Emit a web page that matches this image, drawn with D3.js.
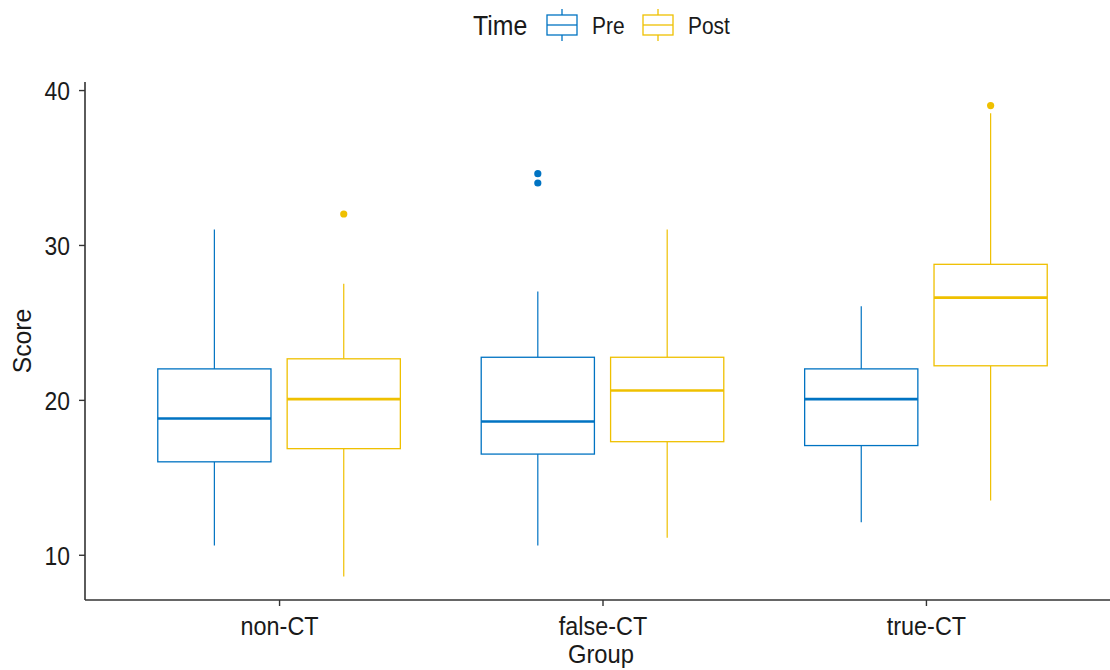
<!DOCTYPE html>
<html><head><meta charset="utf-8">
<script src="https://cdn.jsdelivr.net/npm/d3@7"></script>
<style>body{margin:0;background:#fff}svg{display:block;font-family:"Liberation Sans",Arial,sans-serif}</style>
</head><body><svg id="c" width="1110" height="670"></svg>
<script>
const groups = ["non-CT", "false-CT", "true-CT"];
const times = ["Pre", "Post"];
const colors = ["#0073C2", "#EFC000"];
// [whiskerLow, Q1, median, Q3, whiskerHigh]
const preStats  = [[10.6, 16.0, 18.8, 22.0, 31.0], [10.6, 16.5, 18.6, 22.75, 27.0], [12.1, 17.05, 20.05, 22.0, 26.05]];
const postStats = [[8.6, 16.85, 20.05, 22.65, 27.5], [11.1, 17.3, 20.6, 22.75, 31.0], [13.5, 22.2, 26.6, 28.75, 38.5]];
const preOutliers  = [[], [34.0, 34.6], []];
const postOutliers = [[32.0], [], [39.0]];
const yTicks = [10, 20, 30, 40];

const svg = d3.select("#c");
const pLeft = 85, pRight = 1120, pTop = 82, pBottom = 600;
const x = d3.scalePoint().domain(groups).range([pLeft, pRight]).padding(0.6);
const step = x.step();
const sub = d3.scalePoint().domain(times).range([-0.2 * step, 0.2 * step]);
const bw = 0.35 * step;
const y = d3.scaleLinear().domain([7.08, 40.52]).range([pBottom, pTop]);

function squeeze(sel, f) {
  sel.each(function () {
    const L = this.getComputedTextLength();
    d3.select(this).attr("textLength", L * f).attr("lengthAdjust", "spacingAndGlyphs");
  });
}

const series = [
  {time: "Pre", stats: preStats, out: preOutliers, color: colors[0]},
  {time: "Post", stats: postStats, out: postOutliers, color: colors[1]}
];

const g = svg.append("g");
series.forEach(s => {
  groups.forEach((grp, i) => {
    const st = s.stats[i];
    const cx = x(grp) + sub(s.time);
    const gg = g.append("g").attr("stroke", s.color).attr("fill", "none");
    gg.append("line").attr("x1", cx).attr("x2", cx).attr("y1", y(st[3])).attr("y2", y(st[4])).attr("stroke-width", 1.2);
    gg.append("line").attr("x1", cx).attr("x2", cx).attr("y1", y(st[1])).attr("y2", y(st[0])).attr("stroke-width", 1.2);
    gg.append("rect").attr("x", cx - bw / 2).attr("y", y(st[3])).attr("width", bw).attr("height", y(st[1]) - y(st[3])).attr("fill", "#fff").attr("stroke-width", 1.3);
    gg.append("line").attr("x1", cx - bw / 2).attr("x2", cx + bw / 2).attr("y1", y(st[2])).attr("y2", y(st[2])).attr("stroke-width", 2.6);
    s.out[i].forEach(v => {
      g.append("circle").attr("cx", cx).attr("cy", y(v)).attr("r", 3.6).attr("fill", s.color);
    });
  });
});

// axes
const ya = svg.append("g").attr("transform", `translate(${pLeft},0)`)
  .call(d3.axisLeft(y).tickValues(yTicks).tickSize(6).tickPadding(9));
ya.select(".domain").attr("d", `M0,${pTop}V${pBottom}`);
const xa = svg.append("g").attr("transform", `translate(0,${pBottom})`)
  .call(d3.axisBottom(x).tickSize(6).tickPadding(6));
xa.select(".domain").attr("d", `M${pLeft},0H${1110}`);
[ya, xa].forEach(a => {
  a.selectAll(".domain").attr("stroke", "#333").attr("stroke-width", 1.6);
  a.selectAll(".tick line").attr("stroke", "#333").attr("stroke-width", 1.4);
  a.selectAll(".tick text").attr("fill", "#1a1a1a").attr("font-size", 26);
});
xa.selectAll(".tick text").attr("dy", null).attr("y", 35);
ya.selectAll(".tick text").attr("dy", "0.38em");
squeeze(xa.selectAll(".tick text"), 0.9);
squeeze(ya.selectAll(".tick text"), 0.88);

const gl = svg.append("text").attr("x", 601).attr("y", 663).attr("text-anchor", "middle").attr("font-size", 25).attr("fill", "#1a1a1a").text("Group");
squeeze(gl, 0.95);
const sl = svg.append("text").attr("transform", "translate(31,341) rotate(-90)").attr("text-anchor", "middle").attr("font-size", 26).attr("fill", "#1a1a1a").text("Score");
squeeze(sl, 0.95);

// legend
const lg = svg.append("g");
const tl = lg.append("text").attr("x", 473).attr("y", 35).attr("font-size", 27).attr("fill", "#1a1a1a").text("Time");
squeeze(tl, 0.92);
const keyX = [547, 643], labX = [592, 688];
times.forEach((t, i) => {
  const k = lg.append("g").attr("stroke", colors[i]).attr("fill", "none").attr("stroke-width", 1.3);
  const kx = keyX[i];
  k.append("line").attr("x1", kx + 15).attr("x2", kx + 15).attr("y1", 9).attr("y2", 41);
  k.append("rect").attr("x", kx).attr("y", 15).attr("width", 30).attr("height", 20).attr("fill", "#fff");
  k.append("line").attr("x1", kx).attr("x2", kx + 30).attr("y1", 25).attr("y2", 25);
  const lt = lg.append("text").attr("x", labX[i]).attr("y", 34).attr("font-size", 23).attr("fill", "#1a1a1a").text(t);
  squeeze(lt, 0.91);
});
</script></body></html>
